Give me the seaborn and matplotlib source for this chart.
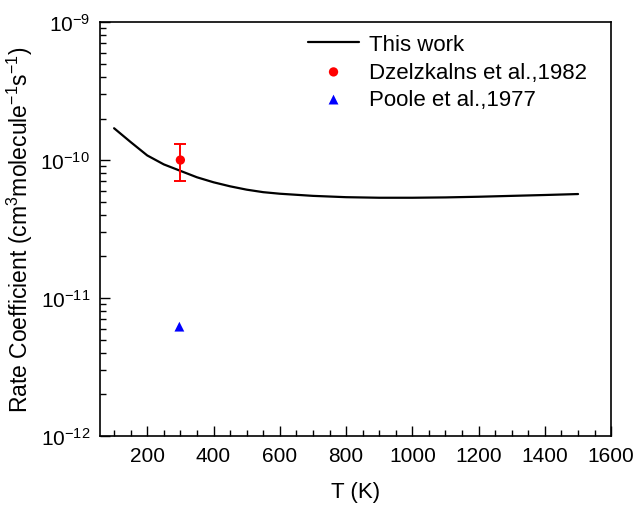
import numpy as np
import pandas as pd
import matplotlib
matplotlib.use("Agg")
import matplotlib.pyplot as plt
import matplotlib.ticker as mticker
import seaborn as sns

# Calculated rate coefficient (this work)
temperature = [100, 150, 200, 250, 300, 350, 400, 450, 500, 550, 600, 700,
               800, 900, 1000, 1100, 1200, 1300, 1400, 1500]
rate_this_work = [1.70e-10, 1.35e-10, 1.08e-10, 9.3e-11, 8.35e-11, 7.5e-11,
                  6.9e-11, 6.45e-11, 6.1e-11, 5.85e-11, 5.7e-11, 5.5e-11,
                  5.38e-11, 5.33e-11, 5.33e-11, 5.36e-11, 5.42e-11, 5.50e-11,
                  5.58e-11, 5.67e-11]

# Experimental data
dz_T = [300]
dz_k = [1.0e-10]
dz_err = [3.0e-11]
poole_T = [297]
poole_k = [6.2e-12]

y_ticks = [1e-12, 1e-11, 1e-10, 1e-9]
y_tick_labels = [r"$\mathregular{10^{-12}}$", r"$\mathregular{10^{-11}}$",
                 r"$\mathregular{10^{-10}}$", r"$\mathregular{10^{-9}}$"]
y_minor = [m * 10.0 ** e for e in (-12, -11, -10) for m in range(2, 10)]
x_ticks = [200, 400, 600, 800, 1000, 1200, 1400, 1600]

MAJOR_LEN, MINOR_LEN = 7, 4  # tick lengths in points

sns.set_theme(style="ticks")
plt.rcParams["font.family"] = ["Liberation Sans", "DejaVu Sans"]
plt.rcParams["mathtext.fontset"] = "custom"
plt.rcParams["mathtext.rm"] = "Liberation Sans"
plt.rcParams["mathtext.it"] = "Liberation Sans:italic"
plt.rcParams["axes.axisbelow"] = False

fig = plt.figure(figsize=(6.4, 5.06), dpi=100)
ax = fig.add_axes([0.156, 0.1364, 0.799, 0.818])

curve = pd.DataFrame({"T": temperature, "k": rate_this_work})
dz = pd.DataFrame({"T": dz_T, "k": dz_k})
poole = pd.DataFrame({"T": poole_T, "k": poole_k})

sns.lineplot(data=curve, x="T", y="k", ax=ax, color="black", linewidth=1.6,
             label="This work")
ax.set_yscale("log")
ax.set_ylim(1e-12, 1e-9)
ax.set_xlim(57, 1600)

ax.errorbar(dz_T, dz_k, yerr=dz_err, fmt="none", ecolor="red",
            elinewidth=1.4, capsize=4, capthick=1.4)
sns.scatterplot(data=dz, x="T", y="k", ax=ax, color="red", marker="o", s=45,
                edgecolor="none", label="Dzelzkalns et al.,1982")
sns.scatterplot(data=poole, x="T", y="k", ax=ax, color="blue", marker="^",
                s=50, edgecolor="none", label="Poole et al.,1977")

ax.set_xticks(x_ticks)
ax.xaxis.set_minor_locator(mticker.MultipleLocator(50))
ax.set_yticks(y_ticks)
ax.set_yticklabels(y_tick_labels)
ax.yaxis.set_minor_locator(mticker.FixedLocator(y_minor))
ax.yaxis.set_minor_formatter(mticker.NullFormatter())

ax.tick_params(axis="both", which="major", direction="in", length=MAJOR_LEN,
               width=1.0, labelsize=15, color="black", labelcolor="black",
               pad=7)
ax.tick_params(axis="both", which="minor", direction="in", length=MINOR_LEN,
               width=1.0, color="black")
ax.tick_params(axis="y", which="both", left=True, right=False)
ax.set_axisbelow(False)
for spine in ax.spines.values():
    spine.set_linewidth(1.2)
    spine.set_edgecolor("black")

ax.set_xlabel("T (K)", fontsize=16, labelpad=12, color="black")
ax.set_ylabel(r"Rate Coefficient (cm$^{3}$molecule$^{-1}$s$^{-1}$)",
              fontsize=16.5, labelpad=4, color="black")

handles, labels = ax.get_legend_handles_labels()
leg = ax.legend(handles, labels, loc="upper left",
                bbox_to_anchor=(0.407, 0.971), frameon=False, fontsize=16,
                handlelength=2.3, handletextpad=0.45, labelspacing=0.3,
                borderpad=0, borderaxespad=0)
for txt in leg.get_texts():
    txt.set_color("black")


def left_ticks_rendered():
    """Check the rendered canvas for a dark tick just inside the left spine."""
    fig.canvas.draw()
    img = np.asarray(fig.canvas.buffer_rgba())[..., :3].astype(int)
    h = img.shape[0]
    x0 = ax.get_window_extent().x0
    _, yp = ax.transData.transform((ax.get_xlim()[0], 1e-11))
    row = int(round(h - yp))
    cols = slice(int(x0) + 3, int(x0) + 8)
    strip = img[max(row - 2, 0):row + 3, cols]
    return strip.size > 0 and strip.min() < 120


if not left_ticks_rendered():
    # Draw the inward log ticks along the left spine from the tick lists
    width_pt = ax.get_window_extent().width * 72.0 / fig.dpi
    ytrans = ax.get_yaxis_transform()
    ax.hlines(y_ticks, 0, MAJOR_LEN / width_pt, transform=ytrans,
              colors="black", linewidth=1.0, clip_on=False, zorder=3)
    ax.hlines(y_minor, 0, MINOR_LEN / width_pt, transform=ytrans,
              colors="black", linewidth=1.0, clip_on=False, zorder=3)
    ax.set_ylim(1e-12, 1e-9)

fig.savefig("out.png", dpi=100)
